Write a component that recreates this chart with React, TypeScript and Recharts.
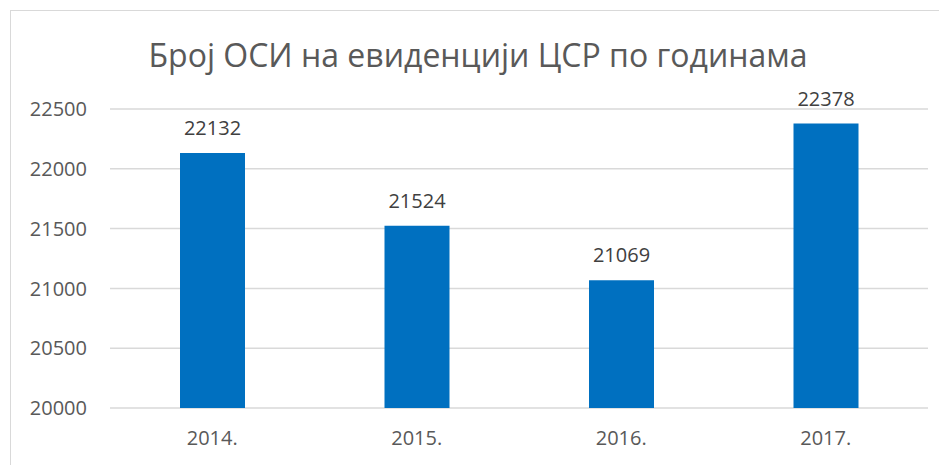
import { BarChart, Bar, XAxis, YAxis, CartesianGrid, LabelList } from 'recharts'

const years = ['2014.', '2015.', '2016.', '2017.']
const counts = [22132, 21524, 21069, 22378]
const yTicks = [20000, 20500, 21000, 21500, 22000, 22500]

const data = years.map((year, i) => ({ year, count: counts[i] }))

const FONT = '"Open Sans", sans-serif'

export default function App() {
  return (
    <div
      style={{
        position: 'absolute', left: 0, top: 0, width: 939, height: 465,
        overflow: 'hidden', background: '#fff', fontFamily: FONT,
      }}
    >
      {/* chart frame, clipped on the right and bottom like the screenshot */}
      <div
        style={{
          position: 'absolute', left: 10, top: 10, width: 980, height: 500,
          border: '1px solid #D9D9D9',
        }}
      />
      <div
        style={{
          position: 'absolute', left: 0, top: 33, width: 956, textAlign: 'center',
          fontSize: 32, color: '#595959', whiteSpace: 'nowrap',
        }}
      >
        Број ОСИ на евиденцији ЦСР по годинама
      </div>
      <div style={{ position: 'absolute', left: 0, top: 0 }}>
        <BarChart
          width={939}
          height={465}
          data={data}
          margin={{ top: 109, right: 11, bottom: 27, left: 10 }}
        >
          <CartesianGrid vertical={false} stroke="#D9D9D9" strokeWidth={1.5} />
          <XAxis
            dataKey="year"
            height={30}
            axisLine={false}
            tickLine={false}
            tickSize={0}
            tickMargin={23}
            tick={{ fontSize: 20, fill: '#595959', fontFamily: FONT }}
          />
          <YAxis
            type="number"
            domain={[20000, 22500]}
            ticks={yTicks}
            width={100}
            axisLine={false}
            tickLine={false}
            tickSize={0}
            tickMargin={23}
            tick={{ fontSize: 20, fill: '#595959', fontFamily: FONT }}
          />
          <Bar dataKey="count" fill="#0070C0" barSize={65} isAnimationActive={false}>
            <LabelList
              dataKey="count"
              position="top"
              offset={18}
              style={{ fontSize: 20, fill: '#404040', fontFamily: FONT }}
            />
          </Bar>
        </BarChart>
      </div>
    </div>
  )
}
